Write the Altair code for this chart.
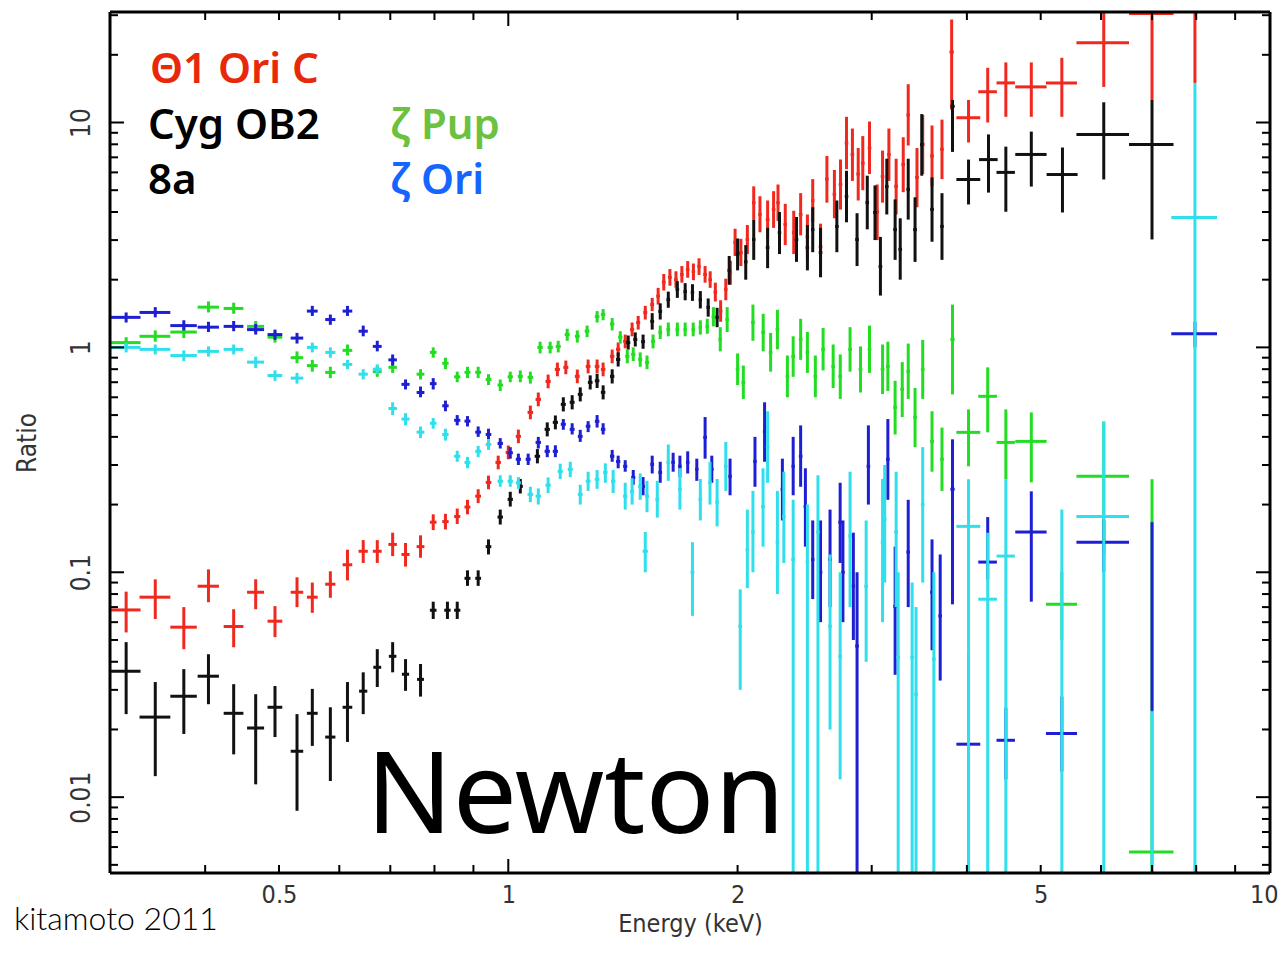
import altair as alt
import pandas as pd

W, H = 1160, 861

# ---- data: (energy keV, half bin width keV, ratio, ratio low, ratio high) ----
red_rows = [
    (0.315, 0.014, 0.068, 0.054, 0.082), (0.344, 0.016, 0.0775, 0.062, 0.093),
    (0.375, 0.015, 0.057, 0.0455, 0.070), (0.404, 0.013, 0.0867, 0.0736, 0.103),
    (0.436, 0.013, 0.0574, 0.0464, 0.0685), (0.466, 0.012, 0.0815, 0.0685, 0.0931),
    (0.494, 0.011, 0.0606, 0.0515, 0.0707), (0.528, 0.010, 0.0815, 0.070, 0.095),
    (0.553, 0.009, 0.0775, 0.066, 0.090), (0.584, 0.009, 0.0885, 0.077, 0.101),
    (0.615, 0.009, 0.108, 0.092, 0.126), (0.645, 0.009, 0.124, 0.110, 0.139),
    (0.673, 0.009, 0.124, 0.110, 0.139), (0.705, 0.009, 0.133, 0.118, 0.150),
    (0.733, 0.009, 0.120, 0.106, 0.135), (0.767, 0.009, 0.130, 0.116, 0.146),
    (0.797, 0.008, 0.167, 0.154, 0.181), (0.827, 0.008, 0.168, 0.155, 0.182),
    (0.857, 0.008, 0.177, 0.164, 0.192), (0.884, 0.008, 0.195, 0.181, 0.210),
    (0.913, 0.008, 0.218, 0.203, 0.234), (0.942, 0.008, 0.251, 0.234, 0.269),
    (0.970, 0.008, 0.308, 0.287, 0.330), (1.000, 0.008, 0.341, 0.318, 0.366),
    (1.031, 0.008, 0.402, 0.375, 0.431), (1.069, 0.009, 0.514, 0.479, 0.551),
    (1.095, 0.009, 0.587, 0.547, 0.630), (1.128, 0.009, 0.706, 0.658, 0.757),
    (1.160, 0.009, 0.798, 0.744, 0.856), (1.190, 0.009, 0.815, 0.760, 0.874),
    (1.232, 0.009, 0.743, 0.693, 0.797), (1.273, 0.009, 0.823, 0.767, 0.883),
    (1.308, 0.009, 0.823, 0.767, 0.883), (1.332, 0.009, 0.798, 0.744, 0.856),
    (1.369, 0.009, 0.912, 0.850, 0.978), (1.394, 0.009, 0.980, 0.914, 1.051),
    (1.424, 0.009, 1.063, 0.991, 1.140), (1.454, 0.009, 1.20, 1.12, 1.29),
    (1.481, 0.009, 1.29, 1.20, 1.38), (1.513, 0.009, 1.43, 1.33, 1.53),
    (1.545, 0.009, 1.55, 1.45, 1.66), (1.573, 0.009, 1.69, 1.55, 1.84),
    (1.600, 0.009, 1.95, 1.79, 2.12), (1.630, 0.009, 2.05, 1.88, 2.23),
    (1.660, 0.009, 2.00, 1.84, 2.18), (1.690, 0.009, 2.11, 1.94, 2.30),
    (1.720, 0.009, 2.22, 2.04, 2.42), (1.750, 0.009, 2.17, 1.99, 2.36),
    (1.780, 0.009, 2.29, 2.10, 2.49), (1.813, 0.010, 2.11, 1.94, 2.30),
    (1.841, 0.010, 2.00, 1.84, 2.18), (1.870, 0.010, 1.76, 1.60, 1.94),
    (1.900, 0.010, 1.45, 1.30, 1.62), (1.930, 0.010, 1.81, 1.62, 2.02),
    (1.957, 0.010, 2.15, 1.90, 2.43), (1.985, 0.010, 2.93, 2.55, 3.37),
    (2.020, 0.011, 2.64, 2.30, 3.04), (2.060, 0.011, 3.02, 2.60, 3.50),
    (2.100, 0.011, 4.40, 3.70, 5.20), (2.140, 0.011, 3.90, 3.25, 4.70),
    (2.190, 0.012, 3.70, 3.05, 4.50), (2.230, 0.012, 4.10, 3.40, 4.95),
    (2.260, 0.012, 4.40, 3.65, 5.30), (2.310, 0.012, 3.52, 2.85, 4.35),
    (2.370, 0.013, 3.24, 2.60, 4.05), (2.420, 0.013, 3.90, 3.15, 4.85),
    (2.470, 0.013, 3.10, 2.45, 3.90), (2.510, 0.013, 4.50, 3.60, 5.60),
    (2.570, 0.014, 2.80, 2.20, 3.55), (2.620, 0.014, 5.60, 4.40, 7.10),
    (2.680, 0.014, 4.80, 3.75, 6.15), (2.730, 0.015, 5.30, 4.10, 6.85),
    (2.780, 0.015, 8.10, 6.20, 10.6), (2.830, 0.015, 7.20, 5.50, 9.40),
    (2.880, 0.016, 5.90, 4.50, 7.70), (2.920, 0.016, 6.60, 5.00, 8.70),
    (2.980, 0.016, 7.70, 5.90, 10.1), (3.050, 0.017, 4.00, 3.00, 5.30),
    (3.100, 0.017, 5.75, 4.40, 7.50), (3.160, 0.017, 7.20, 5.50, 9.40),
    (3.230, 0.018, 5.20, 3.90, 6.90), (3.300, 0.018, 6.50, 4.90, 8.60),
    (3.350, 0.018, 10.8, 7.90, 14.8), (3.440, 0.019, 5.70, 4.20, 7.70),
    (3.500, 0.019, 8.00, 5.90, 10.8), (3.600, 0.020, 7.10, 5.20, 9.70),
    (3.710, 0.020, 7.60, 5.60, 10.3), (3.820, 0.025, 20.6, 11.4, 28.7),
    (4.020, 0.145, 10.5, 8.15, 12.6), (4.260, 0.120, 13.7, 10.0, 17.5),
    (4.500, 0.125, 15.0, 10.6, 18.5), (4.860, 0.230, 14.4, 10.6, 18.5),
    (5.330, 0.250, 15.0, 10.6, 19.4), (6.050, 0.480, 22.6, 14.4, 30.8),
    (7.000, 0.470, 30.5, 12.6, 60.0), (7.970, 0.550, 45.0, 15.0, 80.0),
]

black_rows = [
    (0.315, 0.014, 0.0363, 0.0234, 0.0489), (0.344, 0.016, 0.0227, 0.0124, 0.0325),
    (0.375, 0.015, 0.0281, 0.0191, 0.0371), (0.404, 0.013, 0.0345, 0.0259, 0.0432),
    (0.436, 0.013, 0.0236, 0.0155, 0.0318), (0.466, 0.012, 0.0203, 0.0114, 0.0287),
    (0.494, 0.011, 0.0251, 0.0185, 0.0312), (0.528, 0.010, 0.0160, 0.0087, 0.0234),
    (0.553, 0.009, 0.0236, 0.0169, 0.0303), (0.584, 0.009, 0.0185, 0.0118, 0.0251),
    (0.615, 0.009, 0.0251, 0.0176, 0.0325), (0.645, 0.008, 0.0296, 0.0234, 0.0359),
    (0.673, 0.008, 0.0378, 0.0309, 0.0455), (0.705, 0.008, 0.0423, 0.0359, 0.0489),
    (0.733, 0.008, 0.0352, 0.0297, 0.0411), (0.767, 0.008, 0.0334, 0.0280, 0.0391),
    (0.797, 0.008, 0.0678, 0.0620, 0.0740), (0.832, 0.008, 0.0678, 0.0620, 0.0740),
    (0.857, 0.008, 0.0678, 0.0620, 0.0740), (0.884, 0.008, 0.0940, 0.0870, 0.1020),
    (0.913, 0.008, 0.0940, 0.0870, 0.1020), (0.942, 0.008, 0.130, 0.120, 0.140),
    (0.976, 0.008, 0.176, 0.163, 0.190), (1.006, 0.008, 0.211, 0.196, 0.228),
    (1.037, 0.008, 0.241, 0.224, 0.260), (1.092, 0.009, 0.328, 0.305, 0.353),
    (1.125, 0.009, 0.432, 0.402, 0.464), (1.153, 0.009, 0.464, 0.432, 0.498),
    (1.181, 0.009, 0.558, 0.519, 0.600), (1.213, 0.009, 0.570, 0.530, 0.613),
    (1.243, 0.009, 0.618, 0.575, 0.664), (1.281, 0.009, 0.699, 0.650, 0.751),
    (1.308, 0.009, 0.710, 0.660, 0.763), (1.332, 0.009, 0.631, 0.587, 0.678),
    (1.369, 0.009, 0.743, 0.691, 0.799), (1.394, 0.009, 0.884, 0.822, 0.950),
    (1.437, 0.009, 1.050, 0.977, 1.129), (1.468, 0.009, 1.085, 1.009, 1.166),
    (1.503, 0.009, 1.060, 0.986, 1.140), (1.545, 0.009, 1.305, 1.200, 1.420),
    (1.583, 0.009, 1.445, 1.330, 1.570), (1.622, 0.009, 1.630, 1.500, 1.770),
    (1.667, 0.009, 1.810, 1.660, 1.970), (1.707, 0.009, 1.770, 1.620, 1.930),
    (1.745, 0.009, 1.756, 1.610, 1.910), (1.787, 0.009, 1.630, 1.490, 1.780),
    (1.830, 0.010, 1.506, 1.370, 1.650), (1.880, 0.010, 1.360, 1.230, 1.500),
    (1.950, 0.010, 2.20, 1.90, 2.55), (2.000, 0.011, 2.60, 2.20, 3.05),
    (2.050, 0.011, 2.40, 2.00, 2.85), (2.100, 0.011, 3.02, 2.45, 3.70),
    (2.190, 0.012, 2.78, 2.25, 3.40), (2.270, 0.012, 3.24, 2.60, 4.00),
    (2.390, 0.013, 3.02, 2.40, 3.80), (2.470, 0.013, 2.78, 2.20, 3.50),
    (2.510, 0.013, 3.34, 2.65, 4.20), (2.570, 0.014, 2.64, 2.05, 3.40),
    (2.700, 0.015, 3.45, 2.65, 4.50), (2.780, 0.015, 4.69, 3.60, 6.10),
    (2.870, 0.016, 3.02, 2.30, 3.95), (2.960, 0.016, 4.41, 3.35, 5.80),
    (3.030, 0.017, 3.98, 3.00, 5.25), (3.080, 0.017, 2.29, 1.70, 3.10),
    (3.140, 0.017, 5.19, 3.90, 6.90), (3.220, 0.018, 3.34, 2.45, 4.55),
    (3.270, 0.018, 2.73, 2.00, 3.75), (3.350, 0.018, 5.04, 3.70, 6.90),
    (3.420, 0.019, 3.34, 2.40, 4.65), (3.490, 0.019, 7.97, 5.80, 10.9),
    (3.600, 0.020, 4.11, 2.95, 5.70), (3.710, 0.020, 3.45, 2.45, 4.85),
    (3.830, 0.025, 11.8, 7.40, 12.6), (4.020, 0.145, 5.58, 4.32, 6.84),
    (4.270, 0.120, 6.84, 4.88, 8.85), (4.500, 0.125, 6.00, 4.01, 7.81),
    (4.860, 0.230, 7.21, 5.19, 9.11), (5.340, 0.250, 5.87, 3.98, 7.74),
    (6.050, 0.480, 8.85, 5.58, 12.3), (7.000, 0.470, 7.98, 3.02, 12.6),
]

green_rows = [
    (0.315, 0.014, 1.05, 0.99, 1.11), (0.344, 0.016, 1.12, 1.06, 1.19),
    (0.375, 0.015, 1.17, 1.10, 1.24), (0.404, 0.013, 1.51, 1.43, 1.60),
    (0.436, 0.013, 1.49, 1.41, 1.58), (0.466, 0.012, 1.24, 1.17, 1.31),
    (0.494, 0.011, 1.11, 1.05, 1.18), (0.528, 0.010, 0.90, 0.85, 0.96),
    (0.553, 0.009, 0.83, 0.78, 0.88), (0.584, 0.009, 0.774, 0.73, 0.82),
    (0.615, 0.009, 0.97, 0.92, 1.03), (0.673, 0.009, 0.78, 0.74, 0.83),
    (0.705, 0.009, 0.815, 0.77, 0.86), (0.767, 0.009, 0.76, 0.72, 0.80),
    (0.797, 0.008, 0.95, 0.90, 1.00), (0.827, 0.008, 0.85, 0.80, 0.90),
    (0.857, 0.008, 0.74, 0.70, 0.78), (0.884, 0.008, 0.775, 0.73, 0.82),
    (0.913, 0.008, 0.775, 0.73, 0.82), (0.942, 0.008, 0.72, 0.68, 0.76),
    (0.976, 0.008, 0.68, 0.64, 0.72), (1.006, 0.008, 0.74, 0.70, 0.78),
    (1.037, 0.008, 0.743, 0.70, 0.79), (1.069, 0.009, 0.736, 0.69, 0.78),
    (1.101, 0.009, 1.00, 0.94, 1.06), (1.135, 0.009, 1.00, 0.94, 1.06),
    (1.163, 0.009, 1.01, 0.95, 1.07), (1.195, 0.009, 1.14, 1.07, 1.21),
    (1.232, 0.009, 1.12, 1.05, 1.19), (1.269, 0.009, 1.18, 1.11, 1.25),
    (1.308, 0.009, 1.37, 1.29, 1.45), (1.332, 0.009, 1.40, 1.32, 1.48),
    (1.369, 0.009, 1.27, 1.19, 1.35), (1.403, 0.009, 1.11, 1.04, 1.18),
    (1.433, 0.009, 0.912, 0.85, 0.98), (1.459, 0.009, 0.931, 0.87, 1.00),
    (1.490, 0.009, 0.884, 0.82, 0.95), (1.521, 0.009, 0.858, 0.80, 0.92),
    (1.549, 0.009, 1.063, 0.99, 1.14), (1.583, 0.009, 1.166, 1.09, 1.25),
    (1.622, 0.009, 1.20, 1.12, 1.29), (1.667, 0.009, 1.20, 1.12, 1.29),
    (1.707, 0.009, 1.20, 1.12, 1.29), (1.749, 0.009, 1.20, 1.12, 1.29),
    (1.787, 0.009, 1.227, 1.14, 1.32), (1.825, 0.010, 1.24, 1.15, 1.34),
    (1.859, 0.010, 1.37, 1.24, 1.51), (1.898, 0.010, 1.085, 0.96, 1.23),
    (1.938, 0.010, 1.33, 1.17, 1.51), (2.000, 0.011, 0.798, 0.68, 0.94),
    (2.035, 0.011, 0.699, 0.59, 0.83), (2.095, 0.011, 1.29, 1.07, 1.55),
    (2.161, 0.012, 1.166, 0.96, 1.41), (2.210, 0.012, 0.95, 0.78, 1.16),
    (2.256, 0.012, 1.20, 0.98, 1.47), (2.325, 0.012, 0.743, 0.60, 0.92),
    (2.366, 0.013, 0.912, 0.74, 1.12), (2.420, 0.013, 1.085, 0.88, 1.34),
    (2.470, 0.013, 0.95, 0.77, 1.17), (2.530, 0.013, 0.743, 0.60, 0.92),
    (2.590, 0.014, 0.98, 0.79, 1.22), (2.670, 0.014, 0.823, 0.66, 1.03),
    (2.728, 0.015, 0.743, 0.59, 0.93), (2.810, 0.015, 0.98, 0.78, 1.23),
    (2.900, 0.016, 0.798, 0.63, 1.01), (2.980, 0.016, 0.98, 0.77, 1.25),
    (3.100, 0.017, 0.798, 0.62, 1.03), (3.150, 0.017, 0.823, 0.64, 1.06),
    (3.220, 0.018, 0.541, 0.41, 0.71), (3.290, 0.018, 0.651, 0.49, 0.86),
    (3.350, 0.018, 0.782, 0.59, 1.04), (3.420, 0.019, 0.489, 0.36, 0.66),
    (3.500, 0.019, 0.798, 0.59, 1.08), (3.600, 0.020, 0.382, 0.28, 0.52),
    (3.710, 0.020, 0.318, 0.23, 0.44), (3.830, 0.025, 1.085, 0.618, 1.55),
    (4.020, 0.145, 0.419, 0.296, 0.530), (4.260, 0.120, 0.606, 0.419, 0.815),
    (4.500, 0.125, 0.378, 0.259, 0.530), (4.860, 0.230, 0.382, 0.251, 0.514),
    (5.330, 0.250, 0.0721, 0.050, 0.10), (6.050, 0.480, 0.267, 0.12, 0.464),
    (7.000, 0.470, 0.0057, 0.001, 0.259),
]

blue_rows = [
    (0.315, 0.014, 1.36, 1.29, 1.43), (0.344, 0.016, 1.43, 1.36, 1.51),
    (0.375, 0.015, 1.25, 1.19, 1.32), (0.404, 0.013, 1.23, 1.17, 1.30),
    (0.436, 0.013, 1.24, 1.18, 1.31), (0.466, 0.012, 1.20, 1.14, 1.27),
    (0.494, 0.011, 1.14, 1.08, 1.20), (0.528, 0.010, 1.10, 1.04, 1.16),
    (0.553, 0.009, 1.45, 1.38, 1.53), (0.584, 0.009, 1.33, 1.26, 1.40),
    (0.615, 0.009, 1.45, 1.38, 1.53), (0.645, 0.009, 1.18, 1.12, 1.25),
    (0.673, 0.009, 1.01, 0.96, 1.07), (0.705, 0.009, 0.88, 0.83, 0.93),
    (0.733, 0.009, 0.685, 0.65, 0.72), (0.767, 0.009, 0.63, 0.60, 0.67),
    (0.797, 0.008, 0.69, 0.65, 0.73), (0.827, 0.008, 0.55, 0.52, 0.58),
    (0.857, 0.008, 0.474, 0.45, 0.50), (0.884, 0.008, 0.47, 0.445, 0.495),
    (0.913, 0.008, 0.42, 0.40, 0.445), (0.942, 0.008, 0.41, 0.39, 0.435),
    (0.976, 0.008, 0.374, 0.355, 0.395), (1.006, 0.008, 0.34, 0.32, 0.36),
    (1.031, 0.008, 0.318, 0.30, 0.337), (1.062, 0.008, 0.318, 0.30, 0.337),
    (1.095, 0.009, 0.378, 0.355, 0.40), (1.125, 0.009, 0.345, 0.325, 0.367),
    (1.153, 0.009, 0.345, 0.325, 0.367), (1.181, 0.009, 0.455, 0.43, 0.48),
    (1.213, 0.009, 0.432, 0.41, 0.46), (1.243, 0.009, 0.402, 0.38, 0.43),
    (1.273, 0.009, 0.446, 0.42, 0.47), (1.308, 0.009, 0.469, 0.44, 0.50),
    (1.332, 0.009, 0.432, 0.41, 0.46), (1.369, 0.009, 0.328, 0.31, 0.35),
    (1.394, 0.009, 0.311, 0.29, 0.33), (1.424, 0.009, 0.296, 0.28, 0.315),
    (1.459, 0.009, 0.264, 0.245, 0.285), (1.503, 0.009, 0.241, 0.22, 0.265),
    (1.545, 0.009, 0.302, 0.275, 0.33), (1.583, 0.009, 0.278, 0.25, 0.31),
    (1.646, 0.009, 0.308, 0.28, 0.34), (1.680, 0.009, 0.296, 0.265, 0.33),
    (1.720, 0.009, 0.308, 0.275, 0.345), (1.768, 0.009, 0.287, 0.255, 0.32),
    (1.813, 0.010, 0.398, 0.32, 0.49), (1.850, 0.010, 0.287, 0.25, 0.33),
    (1.955, 0.010, 0.267, 0.22, 0.32), (2.108, 0.011, 0.311, 0.24, 0.40),
    (2.170, 0.011, 0.423, 0.31, 0.57), (2.290, 0.012, 0.234, 0.17, 0.32),
    (2.366, 0.012, 0.296, 0.22, 0.40), (2.420, 0.013, 0.328, 0.24, 0.45),
    (2.455, 0.013, 0.196, 0.13, 0.29), (2.510, 0.013, 0.114, 0.076, 0.17),
    (2.570, 0.014, 0.100, 0.06, 0.17), (2.645, 0.014, 0.114, 0.07, 0.19),
    (2.727, 0.015, 0.167, 0.11, 0.25), (2.750, 0.015, 0.100, 0.06, 0.17),
    (2.838, 0.015, 0.087, 0.05, 0.15), (2.870, 0.016, 0.047, 0.001, 0.10),
    (2.970, 0.016, 0.296, 0.20, 0.45), (3.150, 0.017, 0.318, 0.21, 0.48),
    (3.220, 0.018, 0.0706, 0.035, 0.13), (3.350, 0.018, 0.123, 0.07, 0.21),
    (3.600, 0.020, 0.0815, 0.045, 0.14), (3.690, 0.020, 0.064, 0.033, 0.12),
    (3.830, 0.025, 0.234, 0.072, 0.39), (4.020, 0.145, 0.0172, 0.001, 0.0442),
    (4.260, 0.120, 0.111, 0.093, 0.176), (4.500, 0.125, 0.0179, 0.012, 0.025),
    (4.860, 0.230, 0.151, 0.074, 0.229), (5.330, 0.250, 0.0192, 0.013, 0.028),
    (6.050, 0.480, 0.136, 0.10, 0.17), (7.000, 0.000, 0.065, 0.0242, 0.167),
    (7.970, 0.550, 1.15, 1.0, 1.3),
]

cyan_rows = [
    (0.315, 0.014, 1.00, 0.95, 1.05), (0.344, 0.016, 0.98, 0.93, 1.03),
    (0.375, 0.015, 0.92, 0.87, 0.97), (0.404, 0.013, 0.96, 0.91, 1.01),
    (0.436, 0.013, 0.98, 0.93, 1.03), (0.466, 0.012, 0.86, 0.81, 0.91),
    (0.494, 0.011, 0.75, 0.71, 0.79), (0.528, 0.010, 0.73, 0.69, 0.77),
    (0.553, 0.009, 1.00, 0.95, 1.05), (0.584, 0.009, 0.95, 0.90, 1.00),
    (0.615, 0.009, 0.84, 0.80, 0.88), (0.645, 0.009, 0.76, 0.72, 0.80),
    (0.673, 0.009, 0.80, 0.76, 0.84), (0.705, 0.009, 0.535, 0.50, 0.57),
    (0.733, 0.009, 0.48, 0.45, 0.51), (0.767, 0.009, 0.42, 0.395, 0.445),
    (0.797, 0.008, 0.46, 0.435, 0.485), (0.827, 0.008, 0.41, 0.385, 0.435),
    (0.857, 0.008, 0.328, 0.31, 0.347), (0.884, 0.008, 0.308, 0.29, 0.326),
    (0.913, 0.008, 0.345, 0.325, 0.365), (0.942, 0.008, 0.37, 0.35, 0.39),
    (0.976, 0.008, 0.254, 0.24, 0.27), (1.006, 0.008, 0.254, 0.24, 0.27),
    (1.031, 0.008, 0.250, 0.235, 0.265), (1.069, 0.009, 0.222, 0.205, 0.240),
    (1.095, 0.009, 0.218, 0.200, 0.236), (1.128, 0.009, 0.244, 0.225, 0.264),
    (1.170, 0.009, 0.281, 0.260, 0.304), (1.206, 0.009, 0.287, 0.265, 0.310),
    (1.243, 0.009, 0.222, 0.200, 0.245), (1.273, 0.009, 0.254, 0.230, 0.280),
    (1.308, 0.009, 0.259, 0.235, 0.285), (1.341, 0.009, 0.278, 0.250, 0.305),
    (1.373, 0.009, 0.254, 0.225, 0.285), (1.424, 0.009, 0.218, 0.190, 0.250),
    (1.454, 0.009, 0.229, 0.200, 0.262), (1.490, 0.009, 0.241, 0.210, 0.275),
    (1.521, 0.009, 0.218, 0.185, 0.255), (1.513, 0.012, 0.124, 0.100, 0.151),
    (1.569, 0.009, 0.211, 0.175, 0.255), (1.622, 0.009, 0.308, 0.255, 0.37),
    (1.680, 0.009, 0.234, 0.19, 0.29), (1.745, 0.010, 0.100, 0.064, 0.136),
    (1.787, 0.010, 0.211, 0.17, 0.26), (1.840, 0.010, 0.251, 0.20, 0.31),
    (1.880, 0.010, 0.205, 0.16, 0.26), (1.930, 0.010, 0.296, 0.23, 0.38),
    (2.016, 0.011, 0.0575, 0.030, 0.084), (2.060, 0.011, 0.126, 0.085, 0.19),
    (2.095, 0.011, 0.151, 0.10, 0.23), (2.160, 0.012, 0.196, 0.13, 0.29),
    (2.190, 0.012, 0.360, 0.25, 0.52), (2.256, 0.012, 0.136, 0.08, 0.23),
    (2.300, 0.012, 0.177, 0.11, 0.28), (2.366, 0.013, 0.114, 0.001, 0.21),
    (2.470, 0.013, 0.111, 0.001, 0.20), (2.550, 0.013, 0.151, 0.001, 0.27),
    (2.645, 0.014, 0.0575, 0.02, 0.12), (2.727, 0.015, 0.0423, 0.012, 0.10),
    (2.810, 0.015, 0.145, 0.07, 0.28), (2.950, 0.016, 0.0867, 0.04, 0.17),
    (3.100, 0.017, 0.136, 0.06, 0.26), (3.120, 0.017, 0.172, 0.09, 0.30),
    (3.230, 0.018, 0.151, 0.07, 0.28), (3.250, 0.018, 0.0419, 0.001, 0.10),
    (3.390, 0.018, 0.0419, 0.001, 0.09), (3.430, 0.019, 0.0287, 0.001, 0.07),
    (3.500, 0.019, 0.200, 0.09, 0.36), (3.620, 0.020, 0.0411, 0.001, 0.10),
    (4.020, 0.145, 0.160, 0.001, 0.259), (4.260, 0.120, 0.0759, 0.001, 0.15),
    (4.500, 0.125, 0.118, 0.001, 0.259), (5.330, 0.250, 0.003, 0.0005, 0.19),
    (6.050, 0.480, 0.177, 0.0005, 0.469), (7.000, 0.470, 0.002, 0.0005, 0.024),
    (7.970, 0.550, 3.78, 0.0005, 15.0),
]

series_colors = ["#f0281e", "#111111", "#22dd22", "#1e1ed2", "#30dfec"]
series_rows = [red_rows, black_rows, green_rows, blue_rows, cyan_rows]

x_label_values = [0.5, 1, 2, 5, 10]
y_label_values = [0.01, 0.1, 1, 10]
x_major_ticks = [1, 10]
x_minor_ticks = [0.4, 0.5, 0.6, 0.7, 0.8, 0.9, 2, 3, 4, 5, 6, 7, 8, 9]
y_major_ticks = [0.01, 0.1, 1, 10]
y_minor_ticks = [0.005, 0.006, 0.007, 0.008, 0.009,
                 0.02, 0.03, 0.04, 0.05, 0.06, 0.07, 0.08, 0.09,
                 0.2, 0.3, 0.4, 0.5, 0.6, 0.7, 0.8, 0.9,
                 2, 3, 4, 5, 6, 7, 8, 9, 20, 30]

legend_labels = [
    ("Θ1 Ori C", "#e8280a", 40, 71),
    ("Cyg OB2", "#000000", 38, 127),
    ("8a", "#000000", 38, 182),
    ("ζ Pup", "#6cc13f", 280, 127),
    ("ζ Ori", "#1565ff", 280, 182),
]

# ---- scales & axes ----
AX_FONT = "DejaVu Sans Condensed"
xs = alt.Scale(type="log", domain=[0.3, 10], nice=False)
ys = alt.Scale(type="log", domain=[0.0046, 31], nice=False)
xaxis = alt.Axis(values=x_label_values, format="~g", ticks=False, domain=False, grid=False,
                 labelFont=AX_FONT, labelFontSize=25, labelColor="#333333", labelPadding=9,
                 labelFlush=True, labelFlushOffset=8,
                 title="Energy (keV)", titleFont=AX_FONT, titleFontSize=25,
                 titleFontWeight="normal", titleColor="#333333", titlePadding=4)
yaxis = alt.Axis(values=y_label_values, format="~g", ticks=False, domain=False, grid=False,
                 labelAngle=-90, labelFont=AX_FONT, labelFontSize=26, labelColor="#333333",
                 labelPadding=16, labelFlush=False, title="Ratio", titleFont=AX_FONT,
                 titleFontSize=26, titleFontWeight="normal", titleColor="#333333", titlePadding=28)

layers = []
for rows, col in zip(series_rows, series_colors):
    df = pd.DataFrame(rows, columns=["e", "de", "r", "lo", "hi"])
    df["e_lo"] = df["e"] - df["de"]
    df["e_hi"] = df["e"] + df["de"]
    base = alt.Chart(df)
    layers.append(base.mark_rule(color=col, strokeWidth=3, clip=True).encode(
        x=alt.X("e_lo:Q", scale=xs, axis=xaxis), x2="e_hi:Q",
        y=alt.Y("r:Q", scale=ys, axis=yaxis)))
    layers.append(base.mark_rule(color=col, strokeWidth=3, clip=True).encode(
        x=alt.X("e:Q", scale=xs, axis=xaxis),
        y=alt.Y("lo:Q", scale=ys, axis=yaxis), y2="hi:Q"))

# inward ticks on all four sides
for vals, ln in [(x_major_ticks, 14), (x_minor_ticks, 8)]:
    tdf = pd.DataFrame({"v": vals})
    layers.append(alt.Chart(tdf).mark_rule(color="black", strokeWidth=2).encode(
        x=alt.X("v:Q", scale=xs, axis=xaxis), y=alt.value(H), y2=alt.value(H - ln)))
    layers.append(alt.Chart(tdf).mark_rule(color="black", strokeWidth=2).encode(
        x=alt.X("v:Q", scale=xs, axis=xaxis), y=alt.value(0), y2=alt.value(ln)))
for vals, ln in [(y_major_ticks, 14), (y_minor_ticks, 8)]:
    tdf = pd.DataFrame({"v": vals})
    layers.append(alt.Chart(tdf).mark_rule(color="black", strokeWidth=2).encode(
        y=alt.Y("v:Q", scale=ys, axis=yaxis), x=alt.value(0), x2=alt.value(ln)))
    layers.append(alt.Chart(tdf).mark_rule(color="black", strokeWidth=2).encode(
        y=alt.Y("v:Q", scale=ys, axis=yaxis), x=alt.value(W), x2=alt.value(W - ln)))

one = pd.DataFrame({"a": [0]})
# plot frame
frame = alt.Chart(one).mark_rule(color="black", strokeWidth=3)
layers += [
    frame.encode(x=alt.value(0), x2=alt.value(W), y=alt.value(0)),
    frame.encode(x=alt.value(0), x2=alt.value(W), y=alt.value(H)),
    frame.encode(x=alt.value(0), y=alt.value(0), y2=alt.value(H)),
    frame.encode(x=alt.value(W), y=alt.value(0), y2=alt.value(H)),
]

for txt, col, tx, ty in legend_labels:
    layers.append(alt.Chart(one).mark_text(
        font="Noto Sans", fontSize=42, fontWeight=600, color=col, align="left",
        baseline="alphabetic").encode(x=alt.value(tx), y=alt.value(ty), text=alt.value(txt)))

layers.append(alt.Chart(one).mark_text(
    font="Noto Sans", fontSize=114, color="black", align="left", baseline="alphabetic"
).encode(x=alt.value(256), y=alt.value(821), text=alt.value("Newton")))

layers.append(alt.Chart(one).mark_text(
    font="Lato", fontSize=32, fontWeight=300, color="black", align="left", baseline="alphabetic"
).encode(x=alt.value(-96), y=alt.value(918), text=alt.value("kitamoto 2011")))

chart = alt.layer(*layers).properties(
    width=W, height=H,
    autosize=alt.AutoSizeParams(type="none"),
    padding={"left": 102, "top": 4, "right": 10, "bottom": 66},
).configure_view(strokeWidth=0).configure(background="white")

chart.save("out.html", embed_options={"renderer": "svg", "actions": False})
